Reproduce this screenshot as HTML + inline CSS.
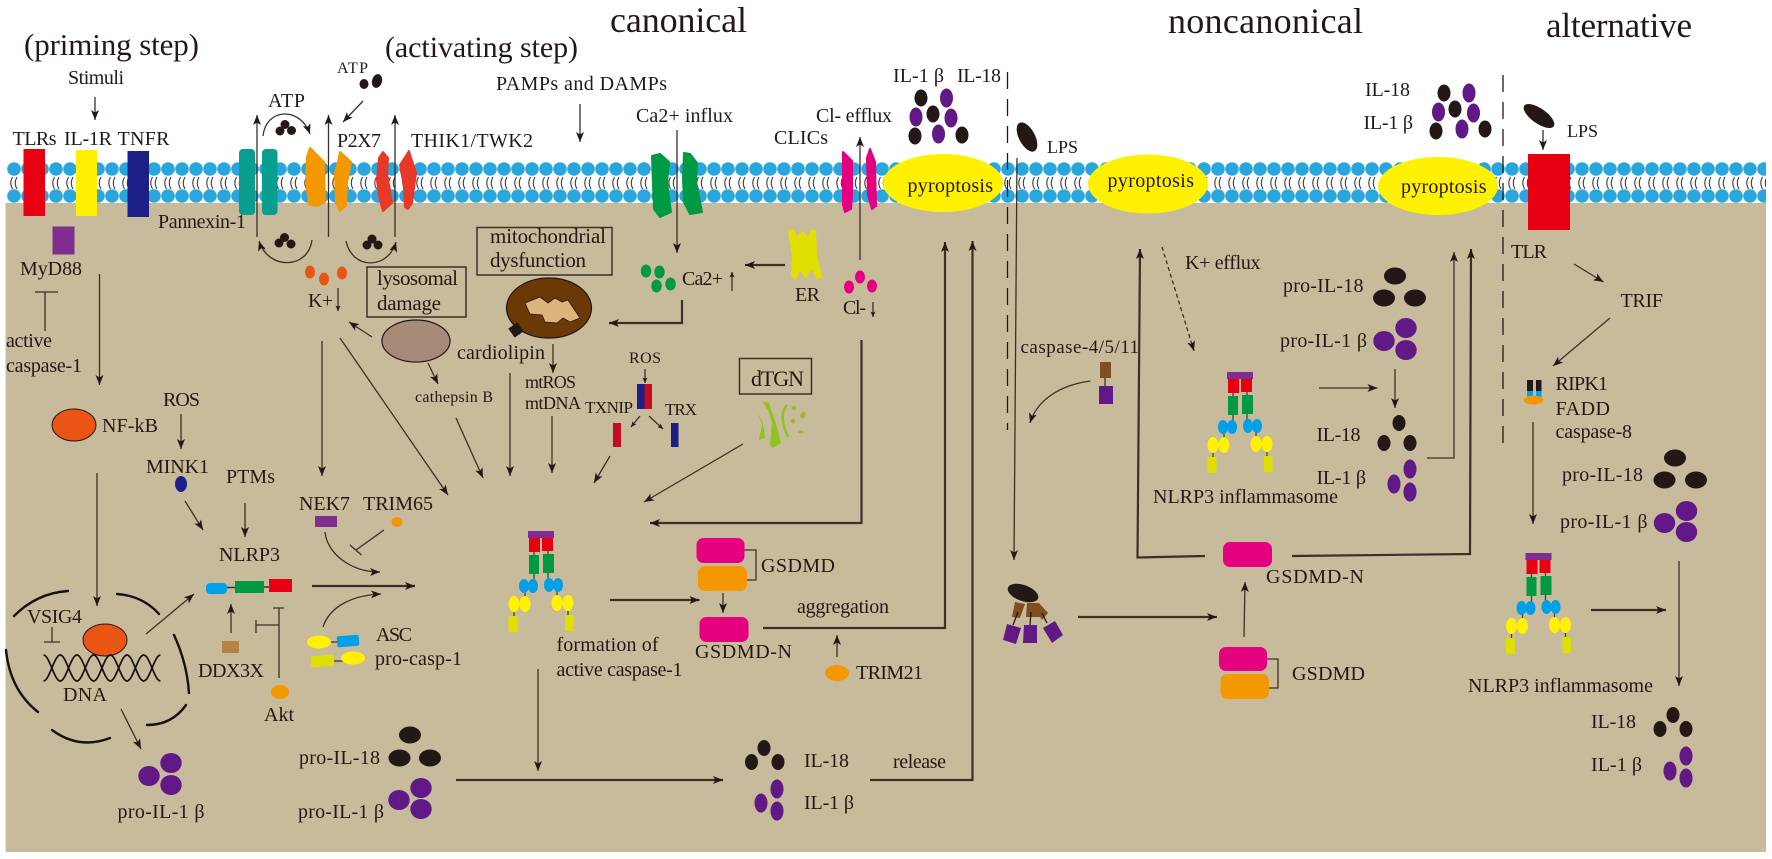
<!DOCTYPE html>
<html><head><meta charset="utf-8"><title>NLRP3 inflammasome pathways</title>
<style>
html,body{margin:0;padding:0;background:#fff;width:1772px;height:859px;overflow:hidden}
svg{display:block}
text{font-family:"Liberation Serif",serif;font-size:20px;fill:#231815}
.l{fill:none;stroke:#3a3027;stroke-width:1.3}
.m{marker-end:url(#a)}
.n{marker-end:url(#b)}
.t{stroke-width:2.2}
.s{font-size:16px}
.arc{fill:none;stroke:#17120f;stroke-width:2.4;stroke-linecap:round}
.k{fill:#231815}.p{fill:#601986}
.j{stroke-linejoin:round;stroke-width:2}
</style></head><body>
<svg width="1772" height="859" viewBox="0 0 1772 859" xmlns="http://www.w3.org/2000/svg">
<defs>
<marker id="a" markerUnits="userSpaceOnUse" markerWidth="11" markerHeight="9" refX="10" refY="4.5" orient="auto"><path d="M0 .5L10 4.5L0 8.5L2.5 4.5Z" fill="#231815"/></marker>
<marker id="b" markerUnits="userSpaceOnUse" markerWidth="6" markerHeight="5" refX="5.500" refY="2.500" orient="auto"><path d="M0 0L5.500 2.500L0 5L1.200 2.500Z" fill="#231815"/></marker>
<pattern id="mem" x="7" y="158" width="14" height="50" patternUnits="userSpaceOnUse">
<path d="M5.500 19q-3.500 6 0 12M10 19q-3.500 6 0 12" fill="none" stroke="#3e3a39" stroke-width="1.100"/>
<circle cx="7" cy="11" r="6.800" fill="#29a6de"/><circle cx="7" cy="38" r="6.800" fill="#29a6de"/></pattern>
<g id="inf">
<rect x="528" y="531" width="26" height="7" fill="#7f2d8e"/>
<path d="M534 552v4M548 551v3M534 574v12M548 573v12M525 592v6M557 591v6M514 612v6M568 611v6" stroke="#4a3f35" stroke-width="1.300"/>
<rect x="529" y="538" width="11" height="14" fill="#e60012"/><rect x="542" y="538" width="11" height="13" fill="#e60012"/>
<rect x="529" y="555" width="10" height="19" fill="#009944"/><rect x="543" y="554" width="11" height="19" fill="#009944"/>
<g fill="#00a0e9"><ellipse cx="524" cy="586" rx="5" ry="7"/><ellipse cx="533" cy="586" rx="5" ry="7"/><ellipse cx="549" cy="585" rx="5" ry="7"/><ellipse cx="558" cy="585" rx="5" ry="7"/></g>
<g fill="#fff100"><ellipse cx="514" cy="604" rx="5.500" ry="8"/><ellipse cx="525" cy="604" rx="5.500" ry="8"/><ellipse cx="557" cy="603" rx="5.500" ry="8"/><ellipse cx="568" cy="603" rx="5.500" ry="8"/></g>
<rect x="508.500" y="616" width="9" height="16" fill="#dfe000"/><rect x="565" y="615" width="8.500" height="16" fill="#dfe000"/>
</g>
</defs>

<rect x="7" y="158" width="1759" height="50" fill="url(#mem)"/>
<rect x="5.500" y="203" width="1760.500" height="649" fill="#c8bb9b"/>

<!-- titles -->
<text x="24" y="55" style="font-size:31px" textLength="175">(priming step)</text>
<text x="385" y="57" style="font-size:30px" textLength="193">(activating step)</text>
<text x="610" y="32" style="font-size:36px" textLength="137">canonical</text>
<text x="1168" y="33" style="font-size:36px" textLength="195">noncanonical</text>
<text x="1546" y="37" style="font-size:35px" textLength="146">alternative</text>

<!-- receptors left -->
<rect x="23.500" y="149" width="21.500" height="67" fill="#e60012"/>
<rect x="76" y="150" width="21" height="66" fill="#fff100"/>
<rect x="127.500" y="151" width="21.500" height="66" fill="#1d2088"/>
<rect x="52.500" y="226.500" width="22" height="28" fill="#7f2d8e"/>
<rect x="239" y="149" width="16" height="66" rx="4" fill="#0a9e8f"/>
<rect x="262" y="149" width="15.500" height="66" rx="4" fill="#0a9e8f"/>
<path class="j" d="M310 148L324 162L325 202L317 206L309 204L306 183L307 157Z" fill="#f39800" stroke="#f39800"/>
<path class="j" d="M340 152L351 162L347 183L346 205L340 211L336 203L335 173L338 162Z" fill="#f39800" stroke="#f39800"/>
<path class="j" d="M383 152L388 158L387 173L392 203L383 211L379 197L377 180L379 158Z" fill="#e83828" stroke="#e83828"/>
<path class="j" d="M409 151L411 158L416 173L412 203L408 209L405 207L404 187L400 165Z" fill="#e83828" stroke="#e83828"/>
<path class="j" d="M652 156L660 154L669 162L667 182L671 212L660 217L654 209L653 185Z" fill="#009944" stroke="#009944"/>
<path class="j" d="M684 153L690 154L697 163L696 182L702 212L690 214L684 202L683 178Z" fill="#009944" stroke="#009944"/>
<path class="j" d="M843 152L852 161L852 195L851 209L845 212L843 205Z" fill="#e4007f" stroke="#e4007f"/>
<path class="j" d="M870 149L875 162L876 206L872 209L868 195L867 158Z" fill="#e4007f" stroke="#e4007f"/>

<text x="68" y="84" textLength="56">Stimuli</text>
<path class="l m" d="M95 97V120"/>
<text x="12.500" y="145" textLength="44">TLRs</text>
<text x="64" y="145" textLength="48">IL-1R</text>
<text x="117.500" y="145" textLength="52">TNFR</text>
<text x="20" y="275" textLength="62">MyD88</text>
<path class="l" d="M45 292V331M35 292H58"/>
<text x="6" y="347" textLength="46">active</text>
<text x="6" y="372" textLength="76">caspase-1</text>
<path class="l m" d="M99.500 274V385"/>
<text x="158" y="228" textLength="88">Pannexin-1</text>

<!-- ATP area -->
<text x="337" y="73" class="s" textLength="31">ATP</text>
<ellipse class="k" cx="364" cy="84" rx="4.500" ry="5"/><ellipse class="k" cx="377" cy="81" rx="5" ry="7" transform="rotate(15 377 81)"/>
<path class="l m" d="M363 101L343 122"/>
<text x="268" y="107" textLength="37">ATP</text>
<path class="l m" d="M263 136C266 108 300 106 310 134"/>
<g class="k"><circle cx="280" cy="131" r="4.500"/><circle cx="285" cy="124.500" r="4.500"/><circle cx="291.500" cy="130.500" r="4.500"/></g>
<path class="l m" d="M257 237V115"/><path class="l m" d="M328.500 237V115"/><path class="l m" d="M395 237V115"/>
<text x="337" y="147" textLength="44">P2X7</text>
<text x="411" y="147" textLength="122">THIK1/TWK2</text>
<path class="l m" d="M312 240C308 270 268 270 259 241"/>
<g class="k"><circle cx="279" cy="243" r="4.500"/><circle cx="284.500" cy="237.500" r="4.500"/><circle cx="291" cy="244" r="4.500"/></g>
<path class="l m" d="M346 241C352 270 388 270 396 242"/>
<g class="k"><circle cx="367" cy="245" r="4.500"/><circle cx="372" cy="239" r="4.500"/><circle cx="378" cy="245" r="4.500"/></g>
<g fill="#ea5514"><ellipse cx="310" cy="272" rx="5" ry="6.500"/><ellipse cx="324" cy="279" rx="5" ry="6.500"/><ellipse cx="342" cy="273" rx="5" ry="6.500"/></g>
<text x="308" y="307" textLength="25">K+</text>
<path class="l n" d="M338 288V311"/>

<text x="496" y="90" textLength="171">PAMPs and DAMPs</text>
<path class="l m" d="M580 104V142"/>
<text x="636" y="122" textLength="97">Ca2+ influx</text>
<path class="l m" d="M677 130V253"/>
<text x="774" y="144" textLength="54">CLICs</text>
<text x="816" y="122" textLength="76">Cl- efflux</text>
<path class="l m" d="M860 260V137"/>

<!-- ER -->
<path class="j" d="M789 231L793 230L797 238L803 232L808 239L812 230L815 232L816 255L821 277L817 278L812 267L806 277L800 269L795 279L792 276L793 258Z" fill="#dfe000" stroke="#dfe000"/>
<text x="795" y="301" textLength="25">ER</text>
<path class="l m t" d="M785 265H745"/>
<g fill="#009944"><ellipse cx="646" cy="271" rx="5.200" ry="6.500"/><ellipse cx="659.500" cy="272" rx="5.200" ry="6.500"/><ellipse cx="656.500" cy="286" rx="5.200" ry="6.500"/><ellipse cx="670.500" cy="284" rx="5.200" ry="6.500"/></g>
<text x="682" y="285" textLength="41">Ca2+</text>
<path class="l n" d="M732 291V272"/>
<path class="l m t" d="M682 300V323H609"/>
<g fill="#e4007f"><ellipse cx="849" cy="287" rx="5" ry="6.500"/><ellipse cx="860" cy="277" rx="5" ry="6.500"/><ellipse cx="872" cy="286" rx="5" ry="6.500"/></g>
<text x="843" y="314" textLength="23">Cl-</text>
<path class="l n" d="M873 302V317"/>
<path class="l m t" d="M861.500 340V523H650"/>

<!-- mitochondria -->
<rect x="477" y="227.500" width="135" height="47.500" fill="none" stroke="#3a3027" stroke-width="1.500"/>
<text x="490" y="243" textLength="116" style="font-size:21px">mitochondrial</text>
<text x="490" y="267" textLength="96" style="font-size:21px">dysfunction</text>
<ellipse cx="549" cy="308" rx="42.500" ry="30" fill="#6a3906" stroke="#231815" stroke-width="1.200"/>
<path class="j" d="M525 303L540 297L548 303L555 298L562 302L568 300L580 318L570 322L563 318L557 323L545 322L542 315L530 314Z" fill="#dcb47c" stroke="#231815" style="stroke-width:.8"/>
<rect x="510.500" y="324.500" width="11" height="11" fill="#231815" transform="rotate(-35 516 330)"/>
<text x="457" y="359" textLength="88">cardiolipin</text>
<path class="l m" d="M553 344V373"/>
<text x="525" y="388" textLength="51" class="s" style="font-size:18px">mtROS</text>
<text x="525" y="409" textLength="56" class="s" style="font-size:18px">mtDNA</text>
<path class="l m" d="M552 416V473"/>
<path class="l m" d="M510 373V476"/>

<!-- lysosome -->
<rect x="367" y="267" width="99" height="50" fill="none" stroke="#3a3027" stroke-width="1.500"/>
<text x="377" y="285" textLength="81" style="font-size:21px">lysosomal</text>
<text x="377" y="310" textLength="64" style="font-size:21px">damage</text>
<ellipse cx="416" cy="341" rx="34" ry="21" fill="#a58b78" stroke="#231815" stroke-width="1.200"/>
<path class="l m" d="M372 337L349 322"/>
<path class="l m" d="M428 363L438 384"/>
<text x="415" y="402" class="s" textLength="78">cathepsin B</text>
<path class="l m" d="M456 418L483 478"/>
<path class="l m" d="M322 341V476"/>
<path class="l m" d="M340 338L448 495"/>

<!-- ROS/TXNIP -->
<text x="629" y="363" class="s" textLength="32">ROS</text>
<path class="l n" d="M645 369V383"/>
<rect x="637" y="384" width="7.500" height="25" fill="#1d2088"/><rect x="644.500" y="384" width="7.500" height="25" fill="#c30d23"/>
<text x="585" y="413" style="font-size:17px" textLength="48">TXNIP</text>
<text x="665" y="415" style="font-size:17px" textLength="32">TRX</text>
<path class="l n" d="M640 416L631 427"/><path class="l n" d="M649 416L663 429"/>
<rect x="613" y="423" width="8" height="24" fill="#c30d23"/><rect x="671" y="423" width="7.500" height="24" fill="#1d2088"/>
<path class="l m" d="M610 456L594 483"/>
<rect x="739.500" y="358.500" width="72" height="35.500" fill="none" stroke="#3a3027" stroke-width="1.500"/>
<text x="751" y="386" textLength="53" style="font-size:22px">dTGN</text>
<g fill="#8fc31f"><path d="M762 401L769 403L777 427L781 443L773 448L770 445L772 423L768 410Z"/><path d="M758 413L763 423L765 438L759 440L762 425Z"/><ellipse cx="794" cy="408" rx="2.500" ry="2"/><ellipse cx="803" cy="415" rx="2.500" ry="3.500" transform="rotate(30 803 415)"/><ellipse cx="793" cy="421" rx="2" ry="2.500"/><ellipse cx="801" cy="432" rx="3" ry="1.500"/></g>
<path d="M787 405Q778 415 788 437" fill="none" stroke="#8fc31f" stroke-width="2.500"/>
<path class="l m" d="M743 444L644 502"/>

<!-- NF-kB etc -->
<ellipse cx="74" cy="425" rx="22" ry="16" fill="#ea5514" stroke="#231815"/>
<text x="102" y="432" textLength="56">NF-kB</text>
<text x="163" y="406" textLength="37">ROS</text>
<path class="l m" d="M181 414V449"/>
<text x="146" y="473" textLength="63">MINK1</text>
<ellipse cx="181" cy="484" rx="6" ry="8" fill="#1d2088"/>
<text x="226" y="483" textLength="49">PTMs</text>
<path class="l m" d="M245 503V537"/>
<path class="l m" d="M185 501L203 530"/>
<text x="219" y="561" textLength="61">NLRP3</text>
<path class="l m" d="M97 473V606"/>
<path d="M227 587.500H235M264 587H269" stroke="#3a3027" stroke-width="1.500"/>
<rect x="206" y="583" width="21" height="11" rx="4" fill="#00a0e9"/>
<rect x="235" y="581" width="29" height="12" fill="#009944"/>
<rect x="269" y="579" width="23" height="13" fill="#e60012"/>

<!-- nucleus -->
<text x="27" y="623" textLength="55">VSIG4</text>
<path class="l" d="M52 627V642M44 642H60"/>
<ellipse cx="105" cy="640" rx="22" ry="16" fill="#ea5514" stroke="#231815"/>
<path d="M43.500 655c6 0 10.700 26 16.700 26c6 0 10.700-26 16.700-26c6 0 10.700 26 16.700 26c6 0 10.700-26 16.700-26c6 0 10.700 26 16.700 26c6 0 10.700-26 16.700-26c6 0 10.700 26 16.700 26M43.500 681c6 0 10.700-26 16.700-26c6 0 10.700 26 16.700 26c6 0 10.700-26 16.700-26c6 0 10.700 26 16.700 26c6 0 10.700-26 16.700-26c6 0 10.700 26 16.700 26c6 0 10.700-26 16.700-26" fill="none" stroke="#17120f" stroke-width="1.700"/>
<text x="63" y="701" textLength="44">DNA</text>
<path class="arc" d="M14 616Q37 593 68 591"/><path class="arc" d="M117 594Q143 596 159 614"/><path class="arc" d="M174 635Q187 663 189 693"/><path class="arc" d="M6 650Q10 690 38 712"/><path class="arc" d="M147 725Q172 725 186 705"/><path class="arc" d="M52 730Q79 750 110 738"/>
<path class="l m" d="M146 634L194 594"/>
<path class="l m" d="M121 709L141 749"/>
<g class="p"><ellipse cx="171" cy="763" rx="10.700" ry="10"/><ellipse cx="149" cy="776" rx="10.700" ry="10"/><ellipse cx="171" cy="785" rx="10.700" ry="10"/></g>
<text x="117.500" y="818" textLength="87">pro-IL-1 β</text>
<text x="198" y="677" textLength="66">DDX3X</text>
<rect x="222" y="641" width="17" height="12" fill="#b68245"/>
<path class="l m" d="M231 633V604"/>
<path class="l" d="M279 678V608M273 608H284M256 625H279M256 620V633"/>
<ellipse cx="280" cy="692" rx="9" ry="7" fill="#f39800"/>
<text x="264" y="721" textLength="30">Akt</text>

<text x="299" y="510" textLength="51">NEK7</text>
<rect x="315" y="516" width="22" height="11" fill="#7f2d8e"/>
<text x="363" y="510" textLength="70">TRIM65</text>
<ellipse cx="397" cy="522" rx="5.500" ry="5" fill="#f39800"/>
<path class="l" d="M384 530L356 550M350 545L361.500 555"/>
<path class="l m" d="M325 532C327 553 350 572 380 572"/>
<path class="l m t" d="M312 586H415"/>
<path class="l m" d="M323 627C330 605 355 595 381 594"/>
<path d="M331 642H340M334 661H345" stroke="#3a3027" stroke-width="1.300"/>
<ellipse cx="319" cy="642" rx="12" ry="6.500" fill="#fff100"/>
<rect x="337" y="635.500" width="22" height="11" rx="2" fill="#00a0e9" transform="rotate(-5 348 641)"/>
<rect x="311" y="655.500" width="23" height="11" fill="#dfe000" transform="rotate(-4 322 661)"/>
<ellipse cx="353" cy="658" rx="12" ry="6.500" fill="#fff100"/>
<text x="376" y="641" textLength="36">ASC</text>
<text x="375" y="665" textLength="87">pro-casp-1</text>

<!-- canonical inflammasome -->
<use href="#inf"/>
<text x="556.500" y="651" textLength="102">formation of</text>
<text x="556.500" y="676" textLength="126">active caspase-1</text>
<path class="l m t" d="M610 600H699.500"/>
<path class="l" d="M744 550H756V580H747" stroke-width="1.500"/>
<rect x="696.500" y="538" width="48" height="25" rx="7" fill="#e4007f"/>
<rect x="698" y="566" width="49" height="25" rx="7" fill="#f39800"/>
<text x="761" y="572" textLength="74">GSDMD</text>
<path class="l m" d="M723 593V613"/>
<rect x="699.500" y="617" width="49" height="25" rx="7" fill="#e4007f"/>
<text x="695" y="658" textLength="97">GSDMD-N</text>
<text x="797" y="613" textLength="92">aggregation</text>
<path class="l m t" d="M763 628H945V242"/>
<path class="l m" d="M837 657V635"/>
<ellipse cx="837" cy="673" rx="12" ry="8" fill="#f39800"/>
<text x="856" y="679" textLength="67">TRIM21</text>
<path class="l m t" d="M870 780H972.500V241"/>
<text x="893" y="768" textLength="53">release</text>
<path class="l m" d="M538 669V771"/>
<text x="299" y="764" textLength="81">pro-IL-18</text>
<g class="k"><ellipse cx="410" cy="735" rx="11" ry="8.500"/><ellipse cx="399.500" cy="758" rx="11" ry="8.500"/><ellipse cx="430" cy="758" rx="11" ry="8.500"/></g>
<g class="p"><ellipse cx="421" cy="788" rx="10.700" ry="10"/><ellipse cx="399" cy="800" rx="10.700" ry="10"/><ellipse cx="421" cy="809" rx="10.700" ry="10"/></g>
<text x="298" y="818" textLength="86">pro-IL-1 β</text>
<path class="l m t" d="M456 780H723"/>
<g class="k"><ellipse cx="764" cy="748" rx="6.500" ry="8"/><ellipse cx="751.500" cy="762" rx="6.500" ry="8"/><ellipse cx="778" cy="762" rx="6.500" ry="8"/></g>
<text x="804" y="767" textLength="45">IL-18</text>
<g class="p"><ellipse cx="777" cy="789" rx="6.500" ry="9.500"/><ellipse cx="761" cy="803" rx="6.500" ry="9.500"/><ellipse cx="777" cy="811" rx="6.500" ry="9.500"/></g>
<text x="804" y="809" textLength="50">IL-1 β</text>

<!-- pyroptosis released canonical -->
<text x="893" y="82" textLength="51">IL-1 β</text>
<text x="957" y="82" textLength="44">IL-18</text>
<g class="k"><ellipse cx="921" cy="98" rx="6.500" ry="8.500"/><ellipse cx="933" cy="114" rx="6.500" ry="8.500"/><ellipse cx="915" cy="136" rx="6.500" ry="8.500"/><ellipse cx="962" cy="135" rx="6.500" ry="8.500"/></g>
<g class="p"><ellipse cx="946.500" cy="98" rx="6.500" ry="9.500"/><ellipse cx="916" cy="117" rx="6.500" ry="9.500"/><ellipse cx="951" cy="118" rx="6.500" ry="9.500"/><ellipse cx="938.500" cy="134" rx="6.500" ry="9.500"/></g>
<ellipse cx="943" cy="183" rx="60" ry="29" fill="#fff100"/>
<text x="907.500" y="192" textLength="85.500">pyroptosis</text>
<ellipse cx="1148" cy="184" rx="60" ry="29.500" fill="#fff100"/>
<text x="1107.500" y="187" textLength="86.500">pyroptosis</text>
<ellipse cx="1438" cy="186" rx="60" ry="29" fill="#fff100"/>
<text x="1401" y="193" textLength="85.500">pyroptosis</text>

<path d="M1007.500 72V430" stroke="#231815" stroke-width="1.300" stroke-dasharray="17 10" fill="none"/>
<path d="M1503 75V443" stroke="#231815" stroke-width="1.300" stroke-dasharray="17 10" fill="none"/>

<!-- noncanonical -->
<ellipse class="k" cx="1027" cy="137" rx="8" ry="16" transform="rotate(-28 1027 137)"/>
<text x="1047" y="153" style="font-size:18px" textLength="31">LPS</text>
<path class="l m" d="M1017 158L1014 560"/>
<text x="1020.500" y="353" textLength="118.500" style="font-size:19px">caspase-4/5/11</text>
<rect x="1100" y="362" width="11" height="16" fill="#7e4f21"/>
<path class="l" d="M1105 378V386"/>
<rect x="1099" y="386" width="14" height="18" fill="#601986"/>
<path class="l m" d="M1090.500 381C1060 385 1037 400 1030 423"/>
<path class="l m" d="M1162 247L1194 351" stroke-dasharray="4 3"/>
<text x="1185" y="269" textLength="75.500">K+ efflux</text>
<text x="1283" y="292" textLength="80.500">pro-IL-18</text>
<g class="k"><ellipse cx="1395" cy="276" rx="11" ry="8.500"/><ellipse cx="1384" cy="298" rx="11" ry="8.500"/><ellipse cx="1415" cy="298" rx="11" ry="8.500"/></g>
<text x="1280" y="347" textLength="87">pro-IL-1 β</text>
<g class="p"><ellipse cx="1406" cy="328" rx="10.700" ry="10"/><ellipse cx="1384" cy="341" rx="10.700" ry="10"/><ellipse cx="1406" cy="350" rx="10.700" ry="10"/></g>
<use href="#inf" x="699" y="-159"/>
<path class="l m" d="M1319 388H1377.500"/>
<path class="l m" d="M1395 369V408"/>
<text x="1316.500" y="441" textLength="44">IL-18</text>
<g class="k"><ellipse cx="1399" cy="423" rx="6.500" ry="8"/><ellipse cx="1384" cy="443" rx="6.500" ry="8"/><ellipse cx="1410" cy="443" rx="6.500" ry="8"/></g>
<text x="1316.500" y="484" textLength="49.500">IL-1 β</text>
<g class="p"><ellipse cx="1410" cy="469" rx="6.500" ry="9.500"/><ellipse cx="1394" cy="484" rx="6.500" ry="9.500"/><ellipse cx="1410" cy="492" rx="6.500" ry="9.500"/></g>
<text x="1153" y="503" textLength="185">NLRP3 inflammasome</text>
<path class="l m t" d="M1205 556L1137.500 557.500L1140 249"/>
<path class="l m t" d="M1292 556L1470 554L1471 249"/>
<path class="l m" d="M1427 458H1454V252"/>
<rect x="1223" y="542" width="49" height="25" rx="7" fill="#e4007f"/>
<text x="1266" y="583" textLength="98">GSDMD-N</text>
<path class="l m" d="M1244 637L1245 582"/>
<path class="l" d="M1267 659H1278V688H1269" stroke-width="1.500"/>
<rect x="1219" y="647" width="48" height="24" rx="7" fill="#e4007f"/>
<rect x="1220.500" y="674" width="48.500" height="25" rx="7" fill="#f39800"/>
<text x="1292" y="680" textLength="73">GSDMD</text>
<!-- LPS complex -->
<path d="M1015 602L1025 604L1020 618L1012 617Z" fill="#7e4f21"/>
<path d="M1027 603L1039 603L1040 617L1026 617Z" fill="#7e4f21"/>
<path d="M1039 603L1048 613L1042 620L1035 609Z" fill="#7e4f21"/>
<path d="M1018 612L1013 625M1031 612L1030 625M1042 613L1047 623" stroke="#231815" stroke-width="1.300"/>
<ellipse class="k" cx="1023" cy="593" rx="16" ry="8" transform="rotate(20 1023 593)"/>
<path d="M1007 624L1021 628L1016 644L1003 640Z" fill="#601986"/>
<path d="M1024 625L1037 625L1037 643L1023 643Z" fill="#601986"/>
<path d="M1055 621L1063 635L1052 643L1043 628Z" fill="#601986"/>
<path class="l m t" d="M1078 617H1217"/>
<text x="1365" y="96" textLength="45">IL-18</text>
<text x="1363.500" y="129" textLength="49.500">IL-1 β</text>
<g class="k"><ellipse cx="1444" cy="93" rx="6.500" ry="8.500"/><ellipse cx="1455" cy="109" rx="6.500" ry="8.500"/><ellipse cx="1436" cy="131" rx="6.500" ry="8.500"/><ellipse cx="1485" cy="129" rx="6.500" ry="8.500"/></g>
<g class="p"><ellipse cx="1469" cy="93" rx="6.500" ry="9.500"/><ellipse cx="1438.500" cy="112" rx="6.500" ry="9.500"/><ellipse cx="1473.500" cy="113" rx="6.500" ry="9.500"/><ellipse cx="1462" cy="129" rx="6.500" ry="9.500"/></g>

<!-- alternative -->
<ellipse class="k" cx="1539" cy="116" rx="18" ry="7.500" transform="rotate(35 1539 116)"/>
<text x="1567" y="137" style="font-size:18px" textLength="31">LPS</text>
<path class="l m" d="M1543 130V150"/>
<rect x="1528" y="154" width="42" height="76" fill="#e60012"/>
<text x="1511" y="258" textLength="36">TLR</text>
<path class="l m" d="M1574 264L1603.500 282"/>
<text x="1620.500" y="307" textLength="42.500">TRIF</text>
<path class="l m" d="M1610 318L1553 366"/>
<rect x="1527" y="380" width="6" height="11" fill="#231815"/><rect x="1536" y="380" width="5.500" height="11" fill="#231815"/>
<rect x="1527" y="391" width="6" height="7" fill="#00a0e9"/><rect x="1536" y="391" width="5.500" height="7" fill="#00a0e9"/>
<ellipse cx="1533.500" cy="400" rx="10" ry="4.500" fill="#f39800"/>
<text x="1555.500" y="390" textLength="52.500">RIPK1</text>
<text x="1555.500" y="415" textLength="54.500">FADD</text>
<text x="1555.500" y="438" textLength="76.500">caspase-8</text>
<path class="l m" d="M1533 422V524"/>
<text x="1562" y="481" textLength="81">pro-IL-18</text>
<g class="k"><ellipse cx="1675" cy="458" rx="11" ry="8.500"/><ellipse cx="1664.500" cy="480" rx="11" ry="8.500"/><ellipse cx="1696" cy="480" rx="11" ry="8.500"/></g>
<text x="1560" y="528" textLength="87.500">pro-IL-1 β</text>
<g class="p"><ellipse cx="1686.500" cy="511" rx="10.700" ry="10"/><ellipse cx="1664.500" cy="523" rx="10.700" ry="10"/><ellipse cx="1686.500" cy="532" rx="10.700" ry="10"/></g>
<use href="#inf" x="997.500" y="22"/>
<path class="l m t" d="M1591 610H1666"/>
<path class="l m" d="M1679 561V686"/>
<text x="1468" y="692" textLength="185">NLRP3 inflammasome</text>
<text x="1591" y="728" textLength="45">IL-18</text>
<g class="k"><ellipse cx="1673" cy="715" rx="6.500" ry="8"/><ellipse cx="1660" cy="729" rx="6.500" ry="8"/><ellipse cx="1686" cy="729" rx="6.500" ry="8"/></g>
<text x="1591" y="771" textLength="51">IL-1 β</text>
<g class="p"><ellipse cx="1686" cy="756" rx="6.500" ry="9.500"/><ellipse cx="1670" cy="771" rx="6.500" ry="9.500"/><ellipse cx="1686" cy="778" rx="6.500" ry="9.500"/></g>
</svg>
</body></html>
